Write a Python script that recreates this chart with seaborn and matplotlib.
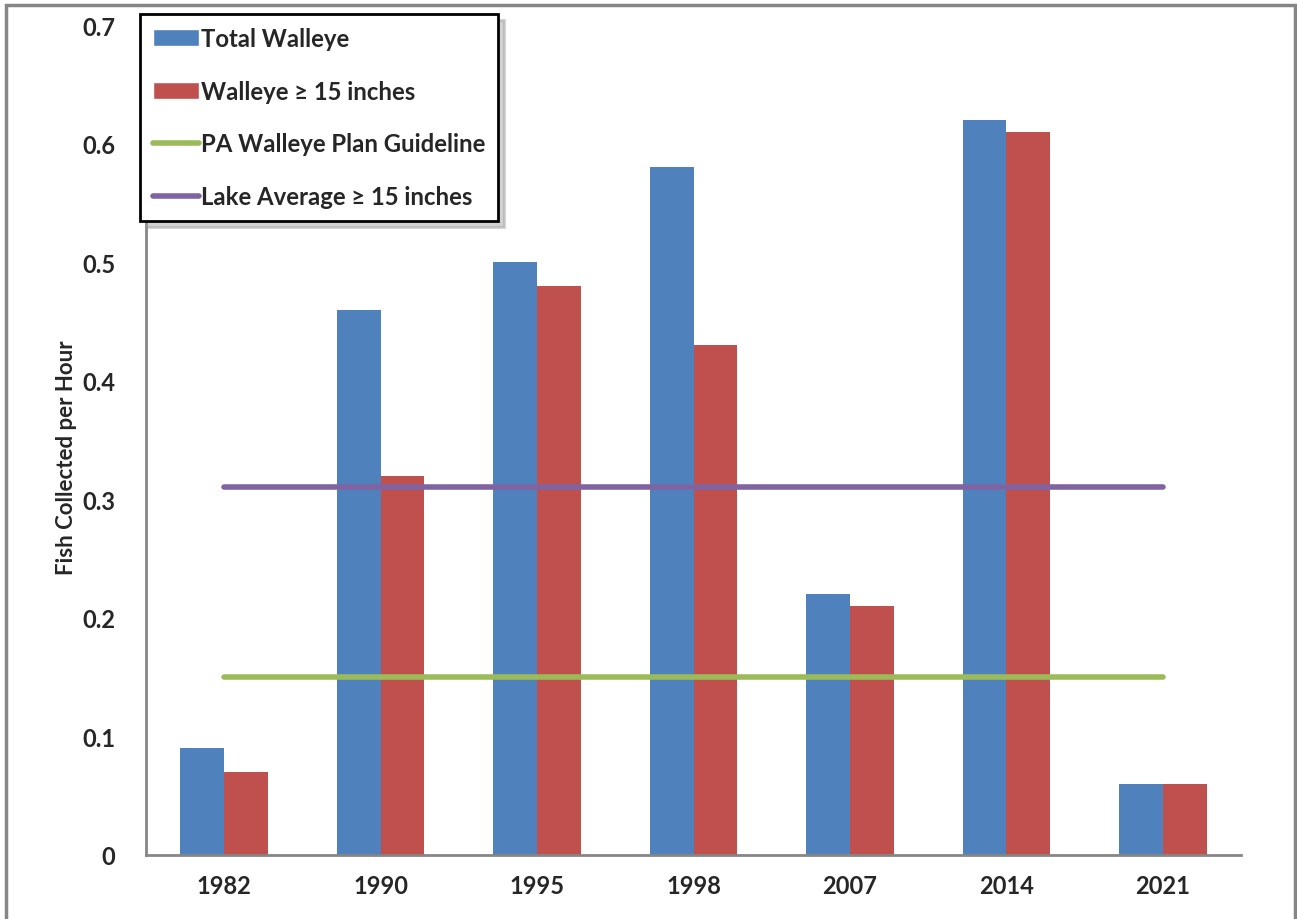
import pandas as pd
import matplotlib.pyplot as plt
import seaborn as sns
from matplotlib.patches import Patch, Rectangle
from matplotlib.lines import Line2D
from matplotlib.ticker import FuncFormatter, FixedLocator

years = ["1982", "1990", "1995", "1998", "2007", "2014", "2021"]
total_walleye = [0.09, 0.46, 0.50, 0.58, 0.22, 0.62, 0.06]
walleye_15 = [0.07, 0.32, 0.48, 0.43, 0.21, 0.61, 0.06]
plan_guideline = [0.15, 0.15, 0.15, 0.15, 0.15, 0.15, 0.15]
lake_average = [0.31, 0.31, 0.31, 0.31, 0.31, 0.31, 0.31]

series_names = ["Total Walleye", "Walleye \u2265 15 inches"]
line_names = ["PA Walleye Plan Guideline", "Lake Average \u2265 15 inches"]
bar_colors = ["#4F81BD", "#C0504D"]
line_colors = ["#9BBB59", "#8064A2"]

df = pd.DataFrame({"year": years * 2,
                   "cpue": total_walleye + walleye_15,
                   "series": [series_names[0]] * 7 + [series_names[1]] * 7})

sns.set_style("white")
plt.rcParams['font.family'] = ['Lato', 'DejaVu Sans']

fig = plt.figure(figsize=(12.97, 9.2), dpi=100)
ax = fig.add_axes([146 / 1297, 1 - 856 / 920, (1241 - 146) / 1297, 830 / 920])

sns.barplot(data=df, x="year", y="cpue", hue="series", palette=bar_colors,
            width=0.56, saturation=1, legend=False, ax=ax)
for p in ax.patches:
    p.set_edgecolor("none")

sns.lineplot(x=list(range(7)), y=plan_guideline, color=line_colors[0], lw=4, ax=ax)
sns.lineplot(x=list(range(7)), y=lake_average, color=line_colors[1], lw=4, ax=ax)

ax.set_xlim(-0.5, 6.5)
ax.set_ylim(0, 0.7)
ax.set_yticks([0, 0.1, 0.2, 0.3, 0.4, 0.5, 0.6, 0.7])
ax.yaxis.set_major_formatter(FuncFormatter(lambda v, p: "0" if v == 0 else f"{v:.1f}"))
ax.set_xticks(range(7))
ax.set_xticklabels(years)
ax.xaxis.set_minor_locator(FixedLocator([i - 0.5 for i in range(8)]))
ax.tick_params(axis="x", which="major", length=0, pad=14, labelsize=17)
ax.tick_params(axis="x", which="minor", length=8, width=2, color="#868686", direction="out")
ax.tick_params(axis="y", which="major", length=8, width=2, color="#868686", direction="out",
               pad=14, labelsize=17)
for lbl in ax.get_xticklabels() + ax.get_yticklabels():
    lbl.set_fontweight("bold")

for s in ["top", "right"]:
    ax.spines[s].set_visible(False)
for s in ["left", "bottom"]:
    ax.spines[s].set_color("#868686")
    ax.spines[s].set_linewidth(2)

ax.set_xlabel("")
ax.set_ylabel("Fish Collected per Hour", fontsize=16, fontweight="bold")
ax.yaxis.set_label_coords(-0.063, 0.48)

handles = [Patch(facecolor=bar_colors[0]), Patch(facecolor=bar_colors[1]),
           Line2D([0], [0], color=line_colors[0], lw=4),
           Line2D([0], [0], color=line_colors[1], lw=4)]
leg = ax.legend(handles, series_names + line_names, loc="upper left",
                bbox_to_anchor=(140 / 1297, 1 - 15 / 920), bbox_transform=fig.transFigure,
                borderaxespad=0, frameon=True, fancybox=False,
                shadow={"ox": 4, "oy": -4, "color": "0.6", "alpha": 0.45},
                prop={"size": 17.2, "weight": "bold"}, handlelength=1.9, handletextpad=0.1,
                labelspacing=1.24, borderpad=0.55)
leg.get_frame().set_edgecolor("black")
leg.get_frame().set_linewidth(2)

fig.patches.append(Rectangle((6 / 1297, -0.05), 1289 / 1297, 1.05 - 6 / 920,
                             transform=fig.transFigure, fill=False,
                             edgecolor="#868686", lw=2.5))

fig.savefig("out.png", dpi=100)
